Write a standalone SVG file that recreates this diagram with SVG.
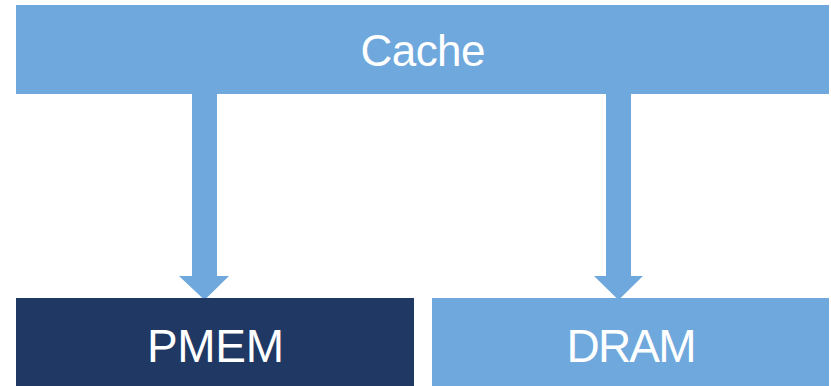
<svg xmlns="http://www.w3.org/2000/svg" width="831" height="386" viewBox="0 0 831 386">
  <style>
    .light { fill: #6FA8DC; }
    .dark { fill: #1F3864; }
    .label { fill: #FFFFFF; font-family: "Liberation Sans", Arial, sans-serif; text-anchor: middle; }
  </style>
  <rect width="831" height="386" fill="#FFFFFF"/>

  <g id="connectors">
    <!-- block arrows from Cache down to each memory -->
    <polygon class="light" points="192,94 217,94 217,276 229,276 204.5,300 179,276 192,276"/>
    <polygon class="light" points="606,94 631,94 631,276 643,276 618.5,300 594,276 606,276"/>
  </g>

  <g id="cache">
    <rect class="light" x="16" y="5" width="813" height="89"/>
    <text class="label" x="423" y="66" font-size="44" textLength="125">Cache</text>
  </g>

  <g id="pmem">
    <rect class="dark" x="16" y="298" width="398" height="88"/>
    <text class="label" x="215.5" y="362" font-size="46" textLength="137">PMEM</text>
  </g>

  <g id="dram">
    <rect class="light" x="432" y="298" width="397" height="88"/>
    <text class="label" x="631.5" y="362" font-size="46" textLength="130">DRAM</text>
  </g>
</svg>
